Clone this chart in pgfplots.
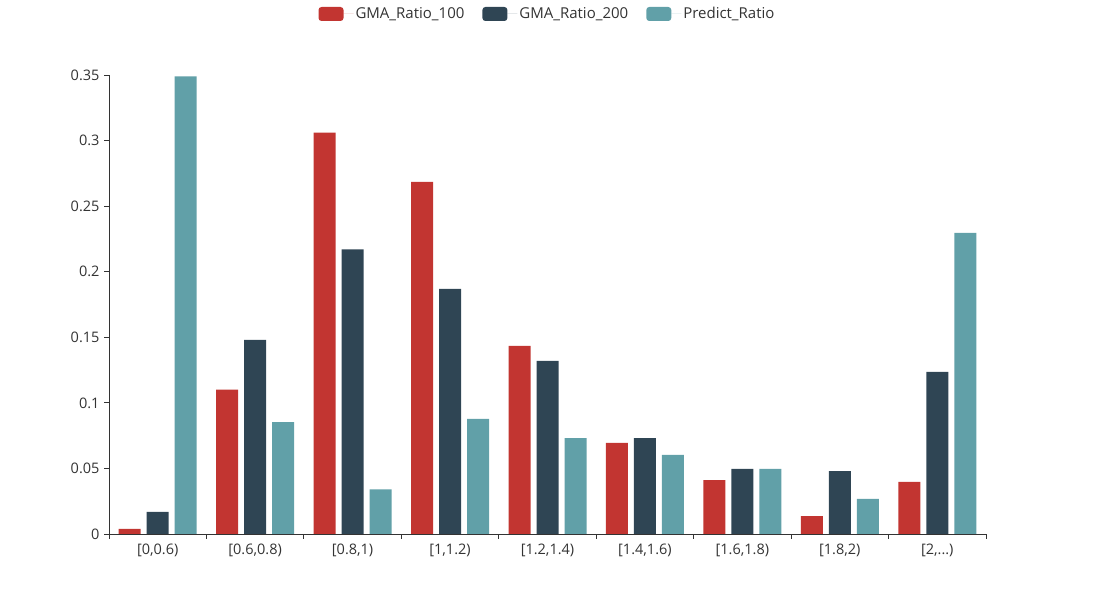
\documentclass[border=0pt]{standalone}
\usepackage{pgfplots}
\pgfplotsset{compat=1.18}
\usepackage{fontspec}
\setmainfont{Open Sans}
\definecolor{cA}{HTML}{C23531}
\definecolor{cB}{HTML}{2F4554}
\definecolor{cC}{HTML}{61A0A8}
\definecolor{txt}{HTML}{333333}
\newcommand{\tdots}{.\kern0pt.\kern0pt.}
\begin{document}
\begin{tikzpicture}[x=1pt,y=1pt]
\useasboundingbox (0,0) rectangle (1095,610);
\begin{axis}[
  at={(109pt,76pt)}, anchor=south west,
  scale only axis, width=877pt, height=459pt,
  ybar=6pt, bar width=22pt,
  xmin=-0.5, xmax=8.5, ymin=0, ymax=0.35,
  axis x line*=bottom, axis y line*=left,
  axis line style={color=txt, line width=0.8pt},
  tick align=outside, major tick length=5pt,
  tick style={color=txt, line width=0.8pt},
  xtick={-0.5,0.5,1.5,2.5,3.5,4.5,5.5,6.5,7.5,8.5},
  xticklabels={{[0,0.6)},{[0.6,0.8)},{[0.8,1)},{[1,1.2)},{[1.2,1.4)},{[1.4,1.6)},{[1.6,1.8)},{[1.8,2)},{[2,\tdots)},{}},
  xticklabel style={xshift=48.72pt, font=\fontsize{14.5}{16}\selectfont, text=txt, yshift=-1pt},
  ytick={0,0.05,0.1,0.15,0.2,0.25,0.3,0.35},
  yticklabel style={font=\fontsize{14.5}{16}\selectfont, text=txt, xshift=-1pt},
  /pgf/number format/.cd, fixed, precision=2, assume math mode=true, /pgfplots/.cd,
  legend columns=3,
  legend style={at={(0.5,1)}, anchor=center, yshift=61pt, draw=none, fill=none,
    font=\fontsize{15}{17}\selectfont, text=txt,
    /tikz/every even column/.append style={column sep=16pt}},
]
\addplot[fill=cA, draw=none, legend image code/.code={\path[fill=cA, rounded corners=3pt] (0pt,-7pt) rectangle (25pt,7pt); \path (25pt,0) -- (35pt,0);}] coordinates {(0,0.004) (1,0.110) (2,0.306) (3,0.2685) (4,0.1434) (5,0.0694) (6,0.041) (7,0.0137) (8,0.0397)};
\addplot[fill=cB, draw=none, legend image code/.code={\path[fill=cB, rounded corners=3pt] (0pt,-7pt) rectangle (25pt,7pt); \path (25pt,0) -- (35pt,0);}] coordinates {(0,0.0168) (1,0.148) (2,0.217) (3,0.187) (4,0.132) (5,0.0732) (6,0.0496) (7,0.048) (8,0.1236)};
\addplot[fill=cC, draw=none, legend image code/.code={\path[fill=cC, rounded corners=3pt] (0pt,-7pt) rectangle (25pt,7pt); \path (25pt,0) -- (35pt,0);}] coordinates {(0,0.349) (1,0.0854) (2,0.034) (3,0.0877) (4,0.0732) (5,0.0603) (6,0.0496) (7,0.0267) (8,0.2296)};
\legend{GMA\_Ratio\_100, GMA\_Ratio\_200, Predict\_Ratio}
\end{axis}
\end{tikzpicture}
\end{document}
